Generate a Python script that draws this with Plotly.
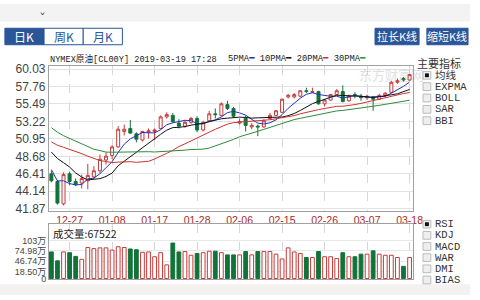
import plotly.graph_objects as go

W, H = 480, 300

dates = ["12-21","12-24","12-26","12-27","12-28","12-31","01-02","01-03","01-04","01-07",
         "01-08","01-09","01-10","01-11","01-14","01-15","01-16","01-17","01-18","01-21",
         "01-22","01-23","01-24","01-25","01-28","01-29","01-30","01-31","02-01","02-04",
         "02-05","02-06","02-07","02-08","02-11","02-12","02-13","02-14","02-15","02-18",
         "02-19","02-20","02-21","02-22","02-25","02-26","02-27","02-28","03-01","03-04",
         "03-05","03-06","03-07","03-08","03-11","03-12","03-13","03-14","03-15","03-18"]

opens  = [46.4,45.4,42.5,46.4,45.4,45.2,45.5,46.0,46.8,48.2,
          48.8,49.9,51.9,52.3,51.6,50.8,51.8,51.9,52.3,53.8,
          54.0,53.0,52.6,53.1,53.6,52.1,53.3,54.2,54.0,55.4,
          54.9,53.0,53.6,52.5,52.6,52.5,53.6,54.0,54.4,56.4,
          56.4,56.5,57.2,57.0,57.1,55.5,56.0,56.7,57.1,55.9,
          56.7,56.5,56.3,56.4,56.1,56.6,57.0,58.3,58.8,58.6]
highs  = [46.8,45.6,46.6,46.7,45.8,46.3,47.7,47.4,48.9,49.2,
          50.1,52.6,52.8,53.4,51.8,52.0,52.3,52.3,54.0,54.4,
          54.3,53.5,53.3,53.8,53.9,53.3,54.6,54.9,55.7,55.9,
          55.1,53.6,54.0,53.0,52.8,53.5,54.3,54.7,56.2,56.8,
          56.9,57.3,57.6,57.6,57.2,56.1,56.8,57.4,57.9,56.7,
          57.0,56.8,56.7,56.5,56.8,57.0,58.5,58.8,59.0,59.4]
lows   = [45.3,42.4,42.3,44.9,44.8,44.5,44.4,45.8,46.5,47.6,
          48.3,49.8,51.4,51.6,50.5,50.6,51.0,50.8,52.2,53.6,
          53.0,52.3,52.4,52.9,51.8,51.9,53.2,53.6,53.9,54.7,
          53.7,52.8,51.9,52.2,51.3,52.4,53.5,53.9,54.3,56.2,
          56.2,56.4,56.9,56.9,55.4,55.2,55.9,56.6,55.7,55.8,
          56.2,55.9,56.0,54.6,56.0,56.4,56.9,58.1,58.4,58.5]
closes = [45.5,42.6,46.3,45.4,45.0,45.8,46.2,46.8,48.3,48.7,
          49.9,52.2,52.2,51.7,50.9,51.9,52.0,52.1,53.8,54.1,
          53.2,52.6,53.1,53.6,52.1,53.1,54.2,54.1,55.5,54.9,
          53.9,53.2,52.7,52.7,52.5,53.3,54.0,54.6,56.1,56.6,
          56.7,57.2,57.1,57.1,55.5,56.0,56.7,57.2,55.8,56.5,
          56.6,56.3,56.5,56.1,56.6,56.9,58.3,58.5,58.6,59.3]

# closes before the first visible candle (used only to seed the moving averages)
pre_closes = [60.19,59.93,55.69,56.25,56.46,56.46,57.20,53.43,54.63,50.42,
              51.63,51.56,50.29,51.45,50.93,52.95,53.25,52.89,51.49,52.61,
              51.00,51.65,51.15,52.58,51.20,49.88,46.24,47.20,45.88]

volumes = [72,48,72,70,60,52,84,81,83,83,
           77,86,84,80,78,71,72,59,70,37,
           96,72,73,63,68,70,74,74,70,64,
           64,64,73,64,73,73,73,66,53,83,
           72,68,57,57,73,59,59,54,70,59,
           59,66,66,75,66,63,63,57,33,57]

price_ticks = [41.87,44.14,46.41,48.68,50.95,53.22,55.49,57.76,60.03]
vol_ticks = [0,18.50,46.74,74.98,103]
vol_tick_text = ["0","18.50万","46.74万","74.98万","103万"]
xtick_idx = [3,10,17,24,31,38,45,52,59]
ma_periods = [5,10,20,30]
ma_colors = ["#2233bb","#111111","#cc3333","#2e8b3a"]

RED = "#c83a3a"
GREEN = "#12733a"

allc = pre_closes + closes
P = len(pre_closes)
def ma(n):
    return [sum(allc[i+P-n+1:i+P+1])/n for i in range(len(closes))]

def px(x): return x / W
def py(y): return 1 - y / H

fig = go.Figure()
fig.add_trace(go.Candlestick(
    x=dates, open=opens, high=highs, low=lows, close=closes,
    increasing=dict(line=dict(color=RED, width=1), fillcolor="white"),
    decreasing=dict(line=dict(color=GREEN, width=1), fillcolor=GREEN),
    whiskerwidth=0, xaxis="x", yaxis="y", hoverinfo="skip"))
for n, c in zip(ma_periods, ma_colors):
    fig.add_trace(go.Scatter(x=dates, y=ma(n), mode="lines",
                             line=dict(color=c, width=1), xaxis="x", yaxis="y"))

up = [c >= o for o, c in zip(opens, closes)]
fig.add_trace(go.Bar(
    x=dates, y=volumes, width=0.62,
    marker=dict(color=["white" if u else GREEN for u in up],
                line=dict(color=[RED if u else GREEN for u in up], width=1)),
    xaxis="x2", yaxis="y2"))

xdom = [px(50), px(422)]
grid = "#d6d6d6"
axline = "#a0a0a0"
fig.update_layout(
    width=W, height=H, margin=dict(l=0, r=0, t=0, b=0),
    paper_bgcolor="white", plot_bgcolor="white", showlegend=False,
    font=dict(family="Liberation Sans, Noto Sans CJK SC", size=11, color="#333"),
    xaxis=dict(domain=xdom, anchor="y", type="category", range=[-0.4, 59.6],
               tickvals=[dates[i] for i in xtick_idx], ticktext=[dates[i] for i in xtick_idx],
               showgrid=True, gridcolor=grid, griddash="dash", gridwidth=1,
               showline=True, mirror=True, linecolor=axline, ticks="",
               tickfont=dict(color="#b02828", size=10.5, family="Liberation Sans"),
               rangeslider=dict(visible=False)),
    yaxis=dict(domain=[py(213), py(64)], anchor="x", range=[41.62, 60.41],
               tickvals=price_ticks, ticktext=[f"{v:.2f}" for v in price_ticks],
               showgrid=True, gridcolor="#e2e2e2", showline=True, mirror=True,
               linecolor=axline, ticks="", zeroline=False,
               tickfont=dict(size=12, color="#444")),
    xaxis2=dict(domain=xdom, anchor="y2", matches="x", type="category",
                showticklabels=False, tickvals=[dates[i] for i in xtick_idx],
                showgrid=True, gridcolor=grid, griddash="dash",
                showline=True, mirror=True, linecolor=axline, ticks=""),
    yaxis2=dict(domain=[py(284), py(227)], anchor="x2", range=[-2.5, 147],
                tickvals=vol_ticks, ticktext=vol_tick_text,
                showgrid=True, gridcolor="#e8e8e8", showline=True, mirror=True,
                linecolor=axline, ticks="", zeroline=False,
                tickfont=dict(size=9, color="#444")),
    bargap=0.3,
)

shapes = []
ann = []
def text(t, x, y, size=11, color="#333", family="Noto Sans CJK SC", xanchor="center", opacity=1):
    ann.append(dict(text=t, x=px(x), y=py(y), xref="paper", yref="paper",
                    xanchor=xanchor, yanchor="middle", showarrow=False, opacity=opacity,
                    borderpad=0, font=dict(size=size, color=color, family=family)))

# top and bottom page strips
shapes.append(dict(type="rect", xref="paper", yref="paper", x0=0, x1=1, y0=py(18), y1=1,
                   fillcolor="#f3f3f3", line=dict(width=0), layer="below"))
shapes.append(dict(type="rect", xref="paper", yref="paper", x0=0, x1=1, y0=0, y1=py(289),
                   fillcolor="#f4f2f0", line=dict(width=0), layer="below"))
# tabs
tabs = [("日K", 5, 45, True), ("周K", 45, 85, False), ("月K", 85, 125, False)]
for t, x0, x1, sel in tabs:
    shapes.append(dict(type="rect", xref="paper", yref="paper", x0=px(x0), x1=px(x1),
                       y0=py(42), y1=py(25), fillcolor="#2a5699" if sel else "white",
                       line=dict(color="#2a5699", width=1)))
    text(t, (x0+x1)/2, 33.5, size=12, color="white" if sel else "#2a5699")
for t, x0, x1 in [("拉长K线", 383, 428), ("缩短K线", 436, 478)]:
    shapes.append(dict(type="rect", xref="paper", yref="paper", x0=px(x0), x1=px(x1),
                       y0=py(42), y1=py(25), fillcolor="#2a5699",
                       line=dict(color="#2a5699", width=1)))
    text(t, (x0+x1)/2, 33.5, size=11, color="white")
text("ˇ", 43, 15, size=14, color="#555", family="DejaVu Sans")

# header
text("NYMEX原油[CL00Y] 2019-03-19 17:28", 50, 57, size=8.6, color="#222",
     family="Liberation Mono, Noto Sans CJK SC", xanchor="left")
leg = " ".join(f"{n}PMA<span style='color:{c}'>━</span>" for n, c in zip(ma_periods, ma_colors))
text(leg, 232, 57, size=8.8, color="#222", family="Liberation Mono, DejaVu Sans Mono",
     xanchor="left")
# watermark
text("东方财富网", 400, 73, size=13, color="#999", opacity=0.3)

# right panel
text("主要指标", 425, 61, size=11, color="#333", xanchor="left")
def checklist(items, y0, step):
    for i, t in enumerate(items):
        yc = y0 + i * step
        shapes.append(dict(type="rect", xref="paper", yref="paper", x0=px(432), x1=px(440),
                           y0=py(yc+4), y1=py(yc-4), fillcolor="#eeeeee",
                           line=dict(color="#bbbbbb", width=1)))
        if i == 0:
            shapes.append(dict(type="rect", xref="paper", yref="paper", x0=px(434), x1=px(438),
                               y0=py(yc+2), y1=py(yc-2), fillcolor="#111",
                               line=dict(width=0)))
        text(t, 443, yc, size=10.5, color="#333",
             family="Liberation Mono, Noto Sans CJK SC", xanchor="left")
checklist(["均线", "EXPMA", "BOLL", "SAR", "BBI"], 73.5, 11.7)
checklist(["RSI", "KDJ", "MACD", "WAR", "DMI", "BIAS"], 227, 11.5)

# volume header
text("成交量:67522", 53, 237, size=10.5, color="#222", xanchor="left")

fig.update_layout(shapes=shapes, annotations=ann)
fig.write_html("out.html")
